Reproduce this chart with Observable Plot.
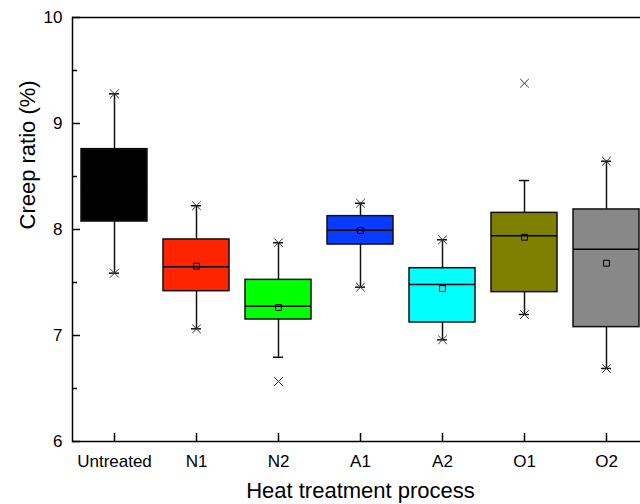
<!DOCTYPE html>
<html>
<head>
<meta charset="utf-8">
<script src="https://cdn.jsdelivr.net/npm/d3@7"></script>
<script src="https://cdn.jsdelivr.net/npm/@observablehq/plot@0.6"></script>
<style>
  html, body { margin: 0; padding: 0; background: #fff; overflow: hidden; width: 640px; height: 504px; }
  #chart svg { max-width: none !important; }
</style>
</head>
<body>
<div id="chart"></div>
<script>
// Creep ratio by heat treatment process (box statistics, %)
const categories = ["Untreated", "N1", "N2", "A1", "A2", "O1", "O2"];
const boxColors = ["#000000", "#ff2400", "#00ff00", "#0a3cff", "#00ffff", "#808000", "#888888"];
const q1 = [8.075, 7.418, 7.151, 7.858, 7.123, 7.409, 7.079];
const q3 = [8.758, 7.906, 7.525, 8.126, 7.635, 8.157, 8.189];
const medians = [8.40, 7.648, 7.277, 7.994, 7.481, 7.940, 7.814];
const means = [8.43, 7.654, 7.264, 7.990, 7.443, 7.927, 7.682];
const whiskerLow = [7.588, 7.063, 6.795, 7.456, 6.959, 7.198, 6.689];
const whiskerHigh = [9.280, 8.224, 7.875, 8.248, 7.903, 8.462, 8.644];
const extremeLow = [7.588, 7.063, 6.566, 7.456, 6.959, 7.198, 6.689];
const extremeHigh = [9.280, 8.224, 7.875, 8.248, 7.903, 9.380, 8.644];
const yTicks = [6, 7, 8, 9, 10];
const yMinorTicks = [6.5, 7.5, 8.5, 9.5];

const rows = categories.map((cat, i) => ({
  cat, q1: q1[i], q3: q3[i], median: medians[i], mean: means[i],
  lo: whiskerLow[i], hi: whiskerHigh[i]
}));
const extremes = categories.flatMap((cat, i) => [
  {cat, v: extremeLow[i]}, {cat, v: extremeHigh[i]}
]);

const ink = "#111";

const chart = Plot.plot({
  width: 660,
  height: 504,
  marginLeft: 72,
  marginRight: 12,
  marginTop: 17,
  marginBottom: 63,
  style: {fontFamily: "'Liberation Sans', Arial, sans-serif", color: "#000", background: "#fff", maxWidth: "none"},
  x: {type: "band", domain: categories, paddingInner: 0.2, paddingOuter: 0.1},
  y: {domain: [6, 10]},
  color: {domain: categories, range: boxColors},
  marks: [
    Plot.ruleX(rows, {x: "cat", y1: "q3", y2: "hi", stroke: ink, strokeWidth: 1.5}),
    Plot.ruleX(rows, {x: "cat", y1: "q1", y2: "lo", stroke: ink, strokeWidth: 1.5}),
    Plot.barY(rows, {x: "cat", y1: "q1", y2: "q3", fill: "cat", stroke: ink, strokeWidth: 1.5}),
    Plot.tickY(rows, {x: "cat", y: "median", stroke: "#000", strokeWidth: 1.5}),
    Plot.dot(rows, {x: "cat", y: "mean", symbol: "square", r: 3.3, stroke: "#000", strokeWidth: 1, fill: "none"}),
    Plot.tickY(rows, {x: "cat", y: "lo", stroke: ink, strokeWidth: 1.5, insetLeft: 28, insetRight: 28}),
    Plot.tickY(rows, {x: "cat", y: "hi", stroke: ink, strokeWidth: 1.5, insetLeft: 28, insetRight: 28}),
    Plot.dot(extremes, {x: "cat", y: "v", symbol: "times", r: 4, stroke: "#333", strokeWidth: 1}),
    Plot.frame({stroke: "#000", strokeWidth: 1.5}),
    Plot.axisY(yTicks, {tickSize: -8, tickPadding: 18, strokeWidth: 1.5, fontSize: 17, label: null, tickFormat: d => String(d)}),
    Plot.axisY(yMinorTicks, {tickSize: -5, strokeWidth: 1.5, label: null, tickFormat: () => ""}),
    Plot.axisX({tickSize: -8, tickPadding: 21, strokeWidth: 1.5, fontSize: 17, label: null}),
    Plot.text(["Heat treatment process"], {frameAnchor: "bottom", dy: 56, fontSize: 22, fill: "#000"}),
    Plot.text(["Creep ratio (%)"], {frameAnchor: "left", dx: -45, rotate: -90, fontSize: 22, fill: "#000"})
  ]
});

document.getElementById("chart").appendChild(chart);
</script>
</body>
</html>
